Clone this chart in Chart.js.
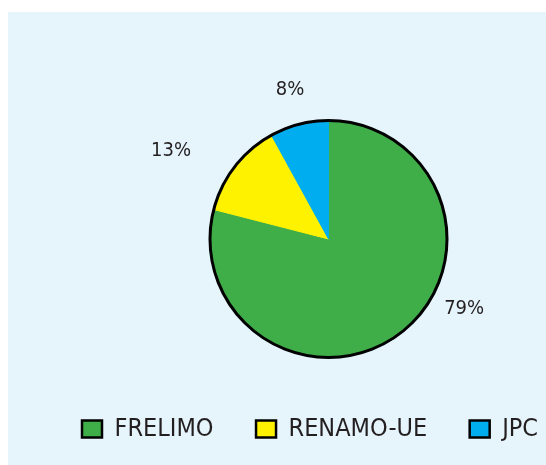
<!DOCTYPE html>
<html>
<head>
<meta charset="utf-8">
<script src="https://cdn.jsdelivr.net/npm/chart.js@4/dist/chart.umd.min.js"></script>
<style>
  html, body { margin: 0; padding: 0; background: #fff; overflow: hidden; }
  #wrap { position: relative; width: 546px; height: 465px; overflow: hidden; }
  #panel { position: absolute; left: 8px; top: 12px; right: 0; bottom: 0; background: #E6F4FC; }
  #chart { position: absolute; left: 0; top: 0; }
</style>
</head>
<body>
<div id="wrap">
  <div id="panel"></div>
  <canvas id="chart" width="640" height="465"></canvas>
</div>
<script>
const parties = ['FRELIMO', 'RENAMO-UE', 'JPC'];
const shares = [79, 13, 8];
const partyColors = ['#3FAE49', '#FFF200', '#00AEEF'];

const FONT = "'Liberation Sans Narrow', 'DejaVu Sans Condensed', 'Liberation Sans', sans-serif";

// label placement: angle shift from slice middle (deg) and distance past the rim (px)
const labelShift = [-25, -8.5, 0];
const labelGap = [34, 62, 36];

const rimAndLabels = {
    id: 'rimAndLabels',
    afterDatasetsDraw(chart) {
        const ctx = chart.ctx;
        const arcs = chart.getDatasetMeta(0).data;
        const first = arcs[0];
        ctx.save();
        ctx.beginPath();
        ctx.arc(first.x, first.y, first.outerRadius, 0, Math.PI * 2);
        ctx.lineWidth = 3;
        ctx.strokeStyle = '#000';
        ctx.stroke();

        ctx.font = '20px ' + FONT;
        ctx.fillStyle = '#231F20';
        ctx.textAlign = 'center';
        ctx.textBaseline = 'middle';
        arcs.forEach((arc, i) => {
            const mid = (arc.startAngle + arc.endAngle) / 2 + labelShift[i] * Math.PI / 180;
            const r = arc.outerRadius + labelGap[i];
            ctx.fillText(shares[i] + '%', arc.x + Math.cos(mid) * r, arc.y + Math.sin(mid) * r);
        });
        ctx.restore();
    }
};

new Chart(document.getElementById('chart'), {
    type: 'pie',
    data: {
        labels: parties,
        datasets: [{
            data: shares,
            backgroundColor: partyColors,
            borderColor: partyColors,
            borderWidth: 1
        }]
    },
    options: {
        responsive: false,
        animation: false,
        radius: 118.5,
        layout: { padding: { left: 39.5, right: 22.5, top: 104, bottom: 13.5 } },
        plugins: {
            tooltip: { enabled: false },
            legend: {
                position: 'bottom',
                align: 'start',
                labels: {
                    boxWidth: 20,
                    boxHeight: 17,
                    padding: 42.5,
                    color: '#231F20',
                    font: { family: FONT, size: 25 },
                    generateLabels(chart) {
                        return Chart.overrides.pie.plugins.legend.labels.generateLabels(chart).map(item => {
                            item.strokeStyle = '#000';
                            item.lineWidth = 2.5;
                            return item;
                        });
                    }
                }
            }
        }
    },
    plugins: [rimAndLabels]
});
</script>
</body>
</html>
